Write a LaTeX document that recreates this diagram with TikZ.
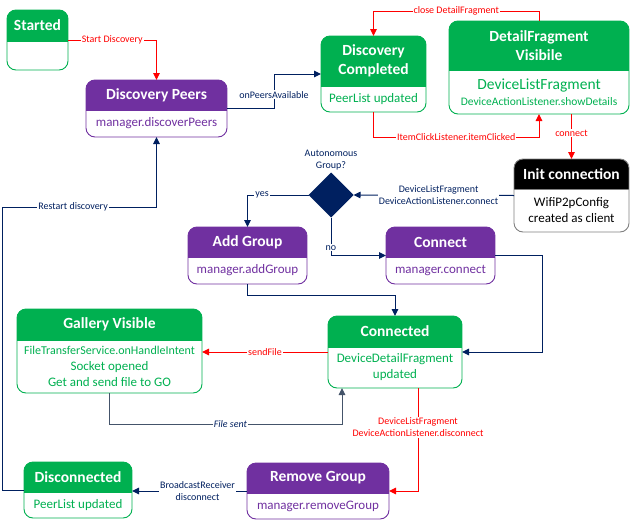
\documentclass[tikz,border=0pt]{standalone}
\usepackage{fontspec}
\setmainfont{Carlito}
\usetikzlibrary{arrows.meta,shapes.geometric}
\definecolor{gfill}{HTML}{00B050}
\definecolor{gline}{HTML}{00B050}
\definecolor{gtext}{HTML}{00B050}
\definecolor{pfill}{HTML}{7030A0}
\definecolor{pline}{HTML}{7030A0}
\definecolor{ptext}{HTML}{7030A0}
\definecolor{kfill}{HTML}{000000}
\definecolor{kline}{HTML}{808080}
\definecolor{ktext}{HTML}{000000}
\definecolor{navy}{HTML}{002060}
\definecolor{slate}{HTML}{44546A}
\definecolor{red0}{HTML}{FF0000}
\tikzset{
  frame/.style={rounded corners=9pt, line width=0.9pt},
  ttl/.style={text=white, inner sep=0pt, font=\fontsize{15.5}{19}\selectfont\bfseries, align=center},
  bdy/.style={inner sep=0pt, font=\fontsize{13}{16}\selectfont, align=center},
  lbl/.style={fill=white, inner sep=1pt, font=\fontsize{10}{12}\selectfont, align=center},
  conn/.style={line width=1pt, -{Triangle[length=7pt,width=6.5pt]}},
  nv/.style={conn, draw=navy, text=navy},
  sl/.style={conn, draw=slate, text=navy},
  rd/.style={conn, draw=red0, text=red0},
}
% name, x1, y1, x2, y2, yh, prefix, title, body
\newcommand\stbox[9]{%
  \node[inner sep=0pt, outer sep=0pt, minimum width={#4-#2}, minimum height={#5-#3}] (#1) at ({(#2+#4)/2},{(#3+#5)/2}) {};
  \begin{scope}
    \clip[rounded corners=9pt] (#1.south west) rectangle (#1.north east);
    \fill[#7fill] (#1.north west) rectangle (#4,#6);
  \end{scope}
  \draw[frame, draw=#7line] (#1.south west) rectangle (#1.north east);
  \draw[line width=0.9pt, draw=#7line] (#2,#6) -- (#4,#6);
  \node[ttl] (#1-h) at ({(#2+#4)/2},{(#3+#6)/2}) {#8};
  \node[bdy, text=#7text] (#1-b) at ({(#2+#4)/2},{(#6+#5)/2}) {#9};
}
\begin{document}
\begin{tikzpicture}[x=1pt, y=-1pt]
\useasboundingbox (0,0) rectangle (631,522);

\stbox{started}{7}{10}{68}{70}{41}{g}{Started}{}
\stbox{dp}{86}{80}{227}{137}{110}{p}{Discovery Peers}{manager.discoverPeers}
\stbox{dc}{321}{36}{426}{112}{86}{g}{Discovery\\Completed}{PeerList updated}
\stbox{df}{449}{21}{629}{114}{70}{g}{DetailFragment\\Visibile}{\fontsize{15.5}{17}\selectfont DeviceListFragment\\\fontsize{11.5}{15}\selectfont DeviceActionListener.showDetails}
\stbox{init}{514}{159}{629}{232}{189}{k}{Init connection}{WifiP2pConfig\\created as client}
\stbox{ag}{188}{227}{307}{284}{257}{p}{Add Group}{manager.addGroup}
\stbox{cn}{386}{227}{495}{284}{257}{p}{Connect}{manager.connect}
\stbox{gal}{17}{309}{202}{393}{340}{g}{Gallery Visible}{\fontsize{12}{14}\selectfont FileTransferService.onHandleIntent\\Socket opened\\Get and send file to GO}
\stbox{cd}{328}{316}{462}{388}{347}{g}{Connected}{DeviceDetailFragment\\updated}
\stbox{disc}{24}{462}{132}{518}{492}{g}{Disconnected}{PeerList updated}
\stbox{rg}{247}{463}{389}{519}{493}{p}{Remove Group}{manager.removeGroup}

\node[diamond, fill=navy, minimum width=45pt, minimum height=45pt, inner sep=0pt, outer sep=0pt] (dia) at (331,195) {};
\node[font=\fontsize{10}{12.5}\selectfont, align=center, text=navy] (dialbl) at (331,160) {Autonomous\\Group?};

\coordinate (c1) at (539,11);
\coordinate (c2) at (373.5,137);
\coordinate (c3) at (247.5,295);
\coordinate (c4) at (542,255.5);
\coordinate (c5) at (342,424);
\coordinate (c6) at (418,388);
\coordinate (c7) at (2,207);
\coordinate (c8) at (274,108.5);

\draw[rd] (started.east) -| node[lbl, pos=0.25] {Start Discovery} (dp.north);
\draw[nv] (dp.east) -- (c8) |- node[lbl, pos=0.2] {onPeersAvailable} (dc.west);
\draw[rd] (df.north) -- (c1) -| node[lbl, pos=0.25] {close DetailFragment} (dc.north);
\draw[rd] (dc.south) -- (c2) -| node[lbl, pos=0.25] {ItemClickListener.itemClicked} (df.south);
\draw[rd] (df.south -| init.north) -- node[lbl, pos=0.42] {connect} (init.north);
\draw[nv] (init.west) -- node[lbl, pos=0.47] {DeviceListFragment\\DeviceActionListener.connect} (dia.east);
\draw[nv] (dia.west) -| node[lbl, pos=0.38] {yes} (ag.north);
\draw[nv] (dia.south) |- node[lbl, pos=0.4] {no} (cn.west);
\draw[nv] (ag.south) -- (c3) -| (cd.north);
\draw[nv] (cn.east) -- (c4) |- (cd.east);
\draw[rd] (cd.west) -- node[lbl] {sendFile} (cd.west -| gal.east);
\draw[sl] (gal.south) |- node[lbl, pos=0.76, font=\fontsize{10}{12}\selectfont\itshape] {File sent} (c5) -- (c5 |- cd.south);
\draw[rd] (c6) |- node[lbl, pos=0.19] {DeviceListFragment\\DeviceActionListener.disconnect} (rg.east);
\draw[nv] (rg.west) -- node[lbl, pos=0.43] {BroadcastReceiver\\disconnect} (rg.west -| disc.east);
\draw[nv] (disc.west) -| (c7) -| node[lbl, pos=0.23] {Restart discovery} (dp.south);
\end{tikzpicture}
\end{document}
